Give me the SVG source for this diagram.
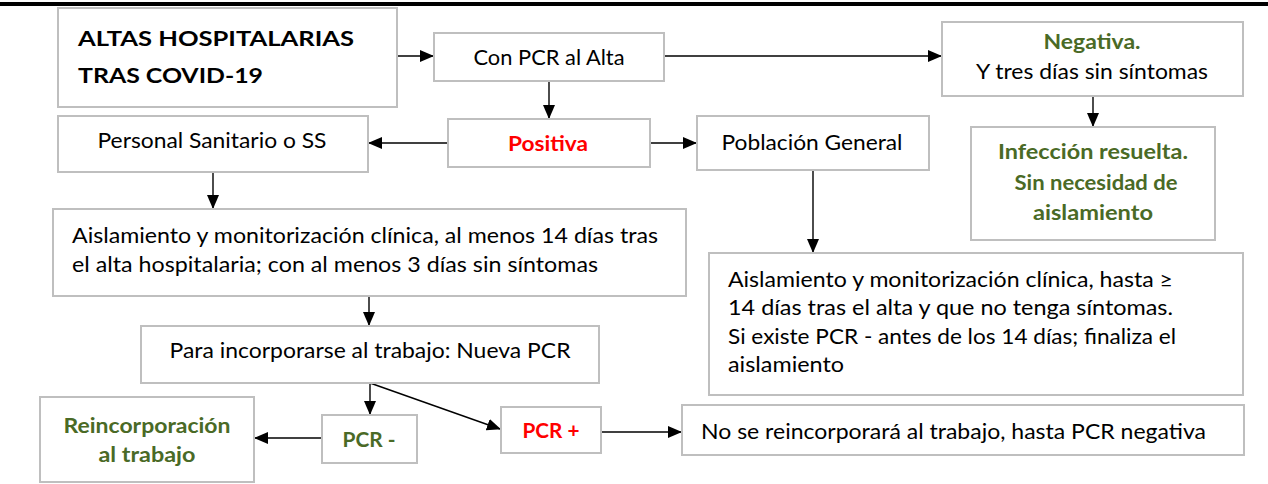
<svg xmlns="http://www.w3.org/2000/svg" width="1268" height="484" viewBox="0 0 1268 484">
<style>
.box{fill:#fff;stroke:#bfbfbf;stroke-width:2}
text{font-family:Lato,"Open Sans","Liberation Sans",sans-serif;font-size:21.5px;fill:#000}
.b{font-weight:bold}
.g{fill:#4a6a26;font-weight:bold}
.r{fill:#ff0000;font-weight:bold}
.m{text-anchor:middle}
.c{fill:none;stroke:#000;stroke-width:1.4}
</style>
<defs>
<marker id="ah" markerUnits="userSpaceOnUse" markerWidth="14" markerHeight="12" refX="13" refY="6" orient="auto">
<path d="M0,0 L14,6 L0,12 Z" fill="#000"/>
</marker>
</defs>
<rect x="0" y="2" width="1268" height="4" fill="#000"/>
<g id="connectors">
<line class="c" x1="397" y1="56" x2="433" y2="56" marker-end="url(#ah)"/>
<line class="c" x1="664" y1="56" x2="941" y2="56" marker-end="url(#ah)"/>
<line class="c" x1="549" y1="81" x2="549" y2="118" marker-end="url(#ah)"/>
<line class="c" x1="448" y1="143" x2="369" y2="143" marker-end="url(#ah)"/>
<line class="c" x1="650" y1="143" x2="696" y2="143" marker-end="url(#ah)"/>
<line class="c" x1="1093" y1="96" x2="1093" y2="126" marker-end="url(#ah)"/>
<line class="c" x1="213" y1="172" x2="213" y2="208" marker-end="url(#ah)"/>
<line class="c" x1="813" y1="170" x2="813" y2="252" marker-end="url(#ah)"/>
<line class="c" x1="369" y1="296" x2="369" y2="325" marker-end="url(#ah)"/>
<line class="c" x1="370" y1="383" x2="370" y2="414" marker-end="url(#ah)"/>
<line class="c" x1="370" y1="383" x2="500" y2="429" marker-end="url(#ah)"/>
<line class="c" x1="322" y1="438" x2="255" y2="438" marker-end="url(#ah)"/>
<line class="c" x1="601" y1="432" x2="681" y2="432" marker-end="url(#ah)"/>
</g>
<g id="n-altas"><rect class="box" x="58" y="8" width="339" height="99"/>
<text class="b" x="78" y="46" font-size="24.5" textLength="276" lengthAdjust="spacingAndGlyphs">ALTAS HOSPITALARIAS</text>
<text class="b" x="78" y="83" font-size="24.5" textLength="185" lengthAdjust="spacingAndGlyphs">TRAS COVID-19</text></g>
<g id="n-conpcr"><rect class="box" x="434" y="33" width="230" height="48"/>
<text class="m" x="549" y="65" textLength="151" lengthAdjust="spacingAndGlyphs">Con PCR al Alta</text></g>
<g id="n-negativa"><rect class="box" x="942" y="22" width="301" height="74"/>
<text class="g m" x="1092" y="49" textLength="97" lengthAdjust="spacingAndGlyphs">Negativa.</text>
<text class="m" x="1092" y="79" textLength="232" lengthAdjust="spacingAndGlyphs">Y tres días sin síntomas</text></g>
<g id="n-positiva"><rect class="box" x="448" y="119" width="202" height="48"/>
<text class="r m" x="548" y="151" textLength="80" lengthAdjust="spacingAndGlyphs">Positiva</text></g>
<g id="n-personal"><rect class="box" x="58" y="116" width="310" height="56"/>
<text class="m" x="212" y="148" textLength="229" lengthAdjust="spacingAndGlyphs">Personal Sanitario o SS</text></g>
<g id="n-poblacion"><rect class="box" x="697" y="116" width="232" height="54"/>
<text class="m" x="812" y="150" textLength="181" lengthAdjust="spacingAndGlyphs">Población General</text></g>
<g id="n-infeccion"><rect class="box" x="971" y="127" width="244" height="113"/>
<text class="g m" x="1093" y="159" textLength="190" lengthAdjust="spacingAndGlyphs">Infección resuelta.</text>
<text class="g m" x="1096" y="190" textLength="163" lengthAdjust="spacingAndGlyphs">Sin necesidad de</text>
<text class="g m" x="1093" y="220" textLength="120" lengthAdjust="spacingAndGlyphs">aislamiento</text></g>
<g id="n-aisl-left"><rect class="box" x="53" y="209" width="633" height="87"/>
<text x="72" y="243" textLength="586" lengthAdjust="spacingAndGlyphs">Aislamiento y monitorización clínica, al menos 14 días tras</text>
<text x="72" y="272" textLength="526" lengthAdjust="spacingAndGlyphs">el alta hospitalaria; con al menos 3 días sin síntomas</text></g>
<g id="n-aisl-right"><rect class="box" x="709" y="253" width="534" height="142"/>
<text x="728" y="287" textLength="445" lengthAdjust="spacingAndGlyphs">Aislamiento y monitorización clínica, hasta ≥</text>
<text x="728" y="315" textLength="445" lengthAdjust="spacingAndGlyphs">14 días tras el alta y que no tenga síntomas.</text>
<text x="728" y="344" textLength="448" lengthAdjust="spacingAndGlyphs">Si existe PCR - antes de los 14 días; finaliza el</text>
<text x="728" y="372" textLength="116" lengthAdjust="spacingAndGlyphs">aislamiento</text></g>
<g id="n-para"><rect class="box" x="141" y="326" width="458" height="57"/>
<text class="m" x="370" y="358" textLength="401" lengthAdjust="spacingAndGlyphs">Para incorporarse al trabajo: Nueva PCR</text></g>
<g id="n-reinc"><rect class="box" x="40" y="397" width="214" height="85"/>
<text class="g m" x="147" y="433" textLength="167" lengthAdjust="spacingAndGlyphs">Reincorporación</text>
<text class="g m" x="147" y="462" textLength="97" lengthAdjust="spacingAndGlyphs">al trabajo</text></g>
<g id="n-pcrneg"><rect class="box" x="322" y="415" width="95" height="48"/>
<text class="g m" x="369" y="447" textLength="53" lengthAdjust="spacingAndGlyphs">PCR -</text></g>
<g id="n-pcrpos"><rect class="box" x="501" y="407" width="100" height="46"/>
<text class="r m" x="551" y="438" textLength="57" lengthAdjust="spacingAndGlyphs">PCR +</text></g>
<g id="n-nose"><rect class="box" x="682" y="405" width="562" height="50"/>
<text x="701" y="439" textLength="505" lengthAdjust="spacingAndGlyphs">No se reincorporará al trabajo, hasta PCR negativa</text></g>
</svg>
